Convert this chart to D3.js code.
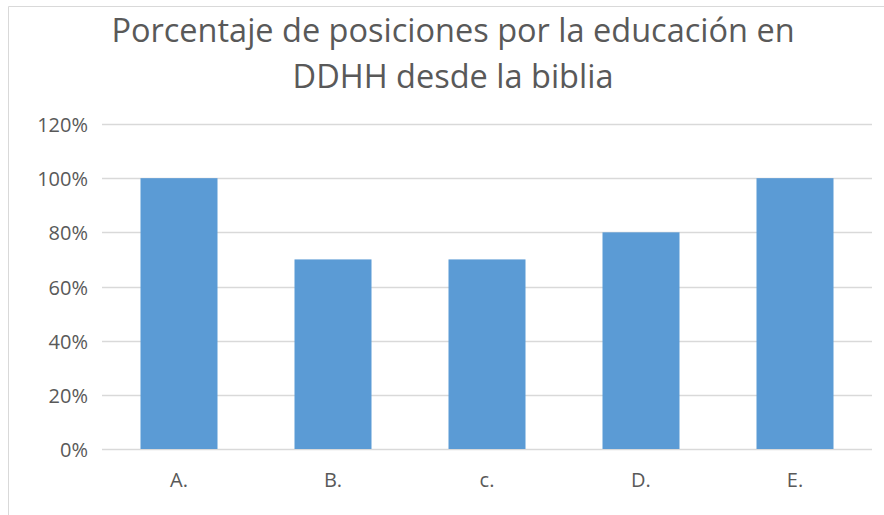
<html>
<meta charset="utf-8">
<script src="https://d3js.org/d3.v7.min.js"></script>
<style>
  body { margin: 0; background: #fff; }
  text { font-family: "Open Sans", sans-serif; fill: #595959; }
</style>
<div id="chart"></div>
<script>
let width = 884,
    height = 515

let categories = ["A.", "B.", "c.", "D.", "E."]
let values = [1.0, 0.7, 0.7, 0.8, 1.0]
let yTicks = [0, 0.2, 0.4, 0.6, 0.8, 1.0, 1.2]
let titleLines = ["Porcentaje de posiciones por la educación en", "DDHH desde la biblia"]

let plot = {left: 102, right: 872, top: 124, bottom: 449}

let svg = d3.select("#chart")
  .append("svg")
    .attr("width", width)
    .attr("height", height)

// chart area outline (left + top visible)
svg.append("path")
    .attr("d", "M8.5," + height + "V6.5H" + width)
    .attr("fill", "none")
    .attr("stroke", "#d9d9d9")

let x = d3.scaleBand()
    .domain(categories)
    .range([plot.left, plot.right])
    .paddingInner(0.5)
    .paddingOuter(0.25)

let y = d3.scaleLinear()
    .domain([0, 1.2])
    .range([plot.bottom, plot.top])

// gridlines
svg.append("g")
  .selectAll("line")
  .data(yTicks)
  .enter()
  .append("line")
    .attr("x1", plot.left)
    .attr("x2", plot.right)
    .attr("y1", d => Math.round(y(d)) + 0.5)
    .attr("y2", d => Math.round(y(d)) + 0.5)
    .attr("stroke", "#d9d9d9")
    .attr("stroke-width", 1.3)

// y labels
svg.append("g")
  .selectAll("text")
  .data(yTicks)
  .enter()
  .append("text")
    .attr("x", 88)
    .attr("y", d => y(d) + 8)
    .attr("text-anchor", "end")
    .attr("font-size", "20px")
    .text(d => d3.format(".0%")(d))

// bars
svg.append("g")
  .selectAll("rect")
  .data(values)
  .enter()
  .append("rect")
    .attr("x", (d, i) => x(categories[i]))
    .attr("width", x.bandwidth())
    .attr("y", d => y(d))
    .attr("height", d => y(0) - y(d))
    .attr("fill", "#5b9bd5")

// x labels
svg.append("g")
  .selectAll("text")
  .data(categories)
  .enter()
  .append("text")
    .attr("x", d => x(d) + x.bandwidth() / 2)
    .attr("y", 487)
    .attr("text-anchor", "middle")
    .attr("font-size", "20px")
    .text(d => d)

// title
svg.append("g")
  .selectAll("text")
  .data(titleLines)
  .enter()
  .append("text")
    .attr("x", 453)
    .attr("y", (d, i) => 42 + i * 45.5)
    .attr("text-anchor", "middle")
    .attr("font-size", "32.5px")
    .text(d => d)
</script>
</html>
